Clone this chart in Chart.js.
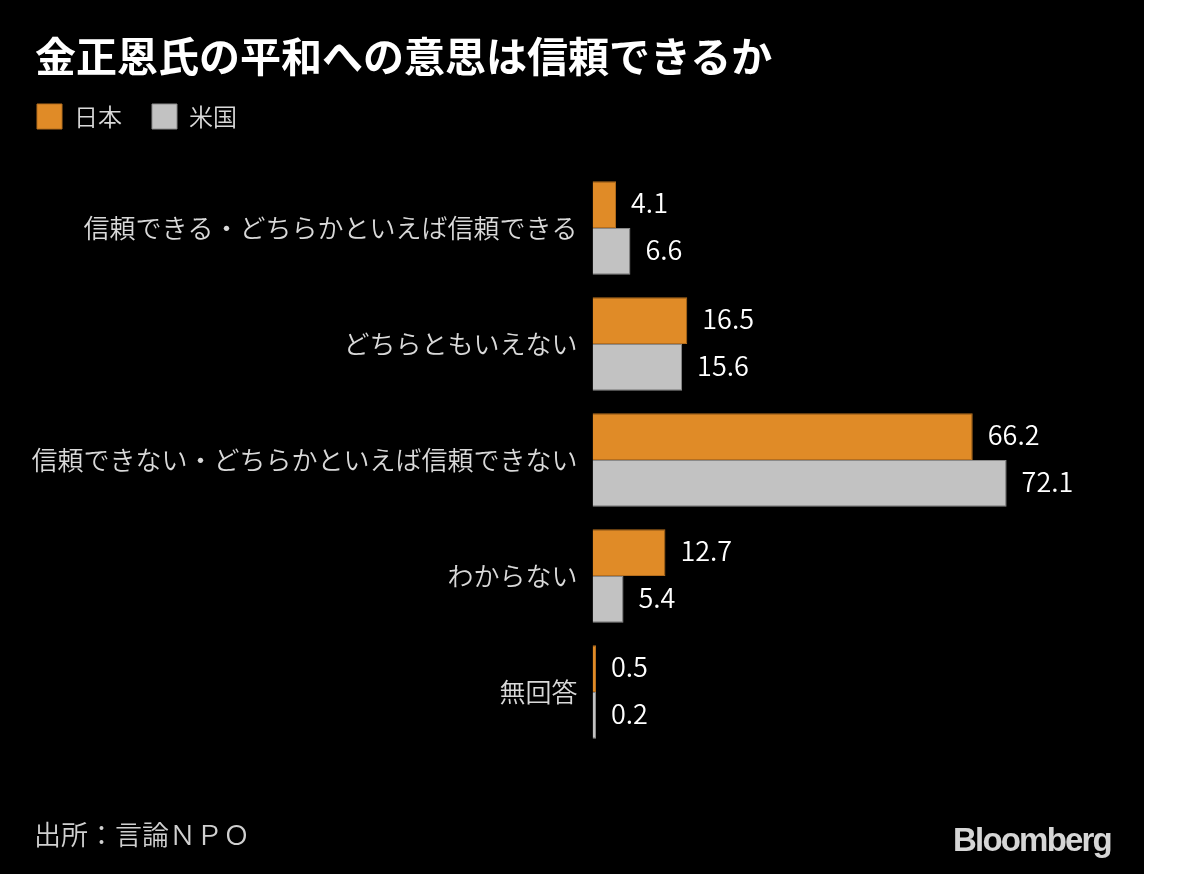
<!DOCTYPE html>
<html lang="ja">
<head>
<meta charset="utf-8">
<title>金正恩氏の平和への意思は信頼できるか</title>
<script src="https://cdn.jsdelivr.net/npm/chart.js@4/dist/chart.umd.min.js"></script>
<style>
  html, body { margin: 0; padding: 0; background: #ffffff; }
  #wrap { position: relative; width: 1144px; height: 874px; background: #000000; overflow: hidden; }
  #chart { position: absolute; left: 0; top: 0; }
  .txt { position: absolute; white-space: nowrap; font-family: "Noto Sans CJK JP", "Noto Sans", sans-serif; line-height: 1.2; }
  #title { left: 35px; top: 30px; font-size: 41px; font-weight: 700; color: #ffffff; }
  #source { left: 34px; top: 818px; font-size: 27px; font-weight: 350; color: #d0d0d0; }
  #logo { left: 953px; top: 820px; font-family: "Liberation Sans", Arial, sans-serif; font-weight: 700; font-size: 33px; letter-spacing: -1.8px; color: #d6d6d6; }
</style>
</head>
<body>
<div id="wrap">
  <canvas id="chart" width="1144" height="874"></canvas>
  <div id="title" class="txt">金正恩氏の平和への意思は信頼できるか</div>
  <div id="source" class="txt">出所：言論ＮＰＯ</div>
  <div id="logo" class="txt">Bloomberg</div>
</div>
<script>
// ---- data ----
const categories = [
  '信頼できる・どちらかといえば信頼できる',
  'どちらともいえない',
  '信頼できない・どちらかといえば信頼できない',
  'わからない',
  '無回答'
];
const seriesNames = ['日本', '米国'];
const japanValues = [4.1, 16.5, 66.2, 12.7, 0.5];
const usValues = [6.6, 15.6, 72.1, 5.4, 0.2];
const xMin = 0;
const xMax = 80;

Chart.defaults.font.family = '"Noto Sans CJK JP", "Noto Sans", sans-serif';

const valueLabels = {
  id: 'valueLabels',
  afterDatasetsDraw(chart) {
    const ctx = chart.ctx;
    ctx.save();
    ctx.font = '350 27px "Noto Sans CJK JP", "Noto Sans", sans-serif';
    ctx.fillStyle = '#ffffff';
    ctx.textAlign = 'left';
    ctx.textBaseline = 'middle';
    chart.data.datasets.forEach((ds, i) => {
      const meta = chart.getDatasetMeta(i);
      meta.data.forEach((el, j) => {
        ctx.fillText(ds.data[j].toFixed(1), el.x + 15, el.y - 2);
      });
    });
    ctx.restore();
  }
};

new Chart(document.getElementById('chart'), {
  type: 'bar',
  data: {
    labels: categories,
    datasets: [
      {
        label: seriesNames[0],
        data: japanValues,
        backgroundColor: '#E08B27',
        borderColor: '#B56E1E',
        borderWidth: 1,
        categoryPercentage: 0.805,
        barPercentage: 1.0,
        minBarLength: 3.5
      },
      {
        label: seriesNames[1],
        data: usValues,
        backgroundColor: '#C2C2C2',
        borderColor: '#8A8A8A',
        borderWidth: 1,
        categoryPercentage: 0.805,
        barPercentage: 1.0,
        minBarLength: 3.5
      }
    ]
  },
  options: {
    indexAxis: 'y',
    responsive: false,
    animation: false,
    devicePixelRatio: 1,
    layout: { padding: { left: 7, right: 92, top: 74, bottom: 124 } },
    plugins: {
      title: { display: false },
      tooltip: { enabled: false },
      legend: {
        display: true,
        position: 'top',
        align: 'start',
        labels: {
          color: '#d9d9d9',
          font: { size: 24, weight: 350 },
          boxWidth: 25,
          boxHeight: 25,
          padding: 30
        }
      }
    },
    scales: {
      x: {
        position: 'top',
        min: xMin,
        max: xMax,
        display: true,
        grid: { display: false, drawTicks: false },
        border: { display: false },
        ticks: { display: false },
        title: { display: true, text: '', font: { size: 10, lineHeight: 1 }, padding: { top: 21, bottom: 0 } }
      },
      y: {
        grid: { display: false, drawTicks: false },
        border: { display: false },
        ticks: {
          color: '#d9d9d9',
          font: { size: 26, weight: 350 },
          padding: 15
        },
        afterFit(scale) { scale.width = 585.5; }
      }
    }
  },
  plugins: [valueLabels]
});
</script>
</body>
</html>
